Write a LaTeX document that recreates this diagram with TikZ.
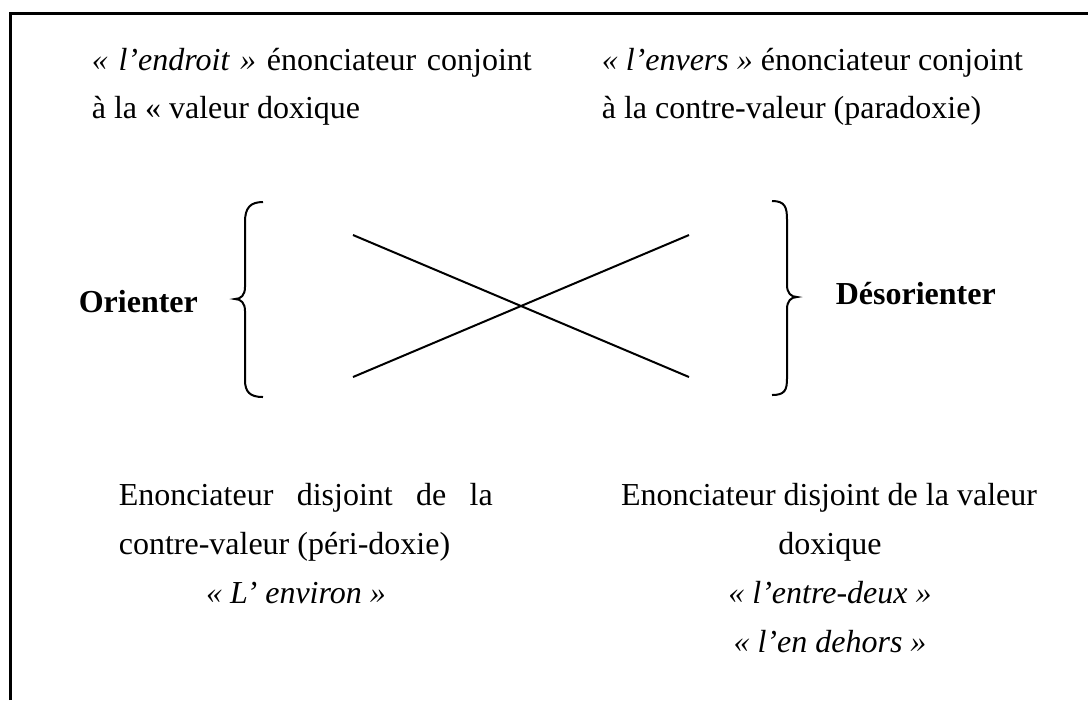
\documentclass[tikz,border=0pt]{standalone}
\usepackage{fontspec}
\setmainfont{Liberation Serif}
\begin{document}
\begin{tikzpicture}[x=0.25pt,y=-0.25pt,
  txt/.style={anchor=base west, inner sep=0, font=\fontsize{8}{10}\selectfont},
  ctxt/.style={anchor=base, inner sep=0, font=\fontsize{8}{10}\selectfont},
  lbl/.style={anchor=base west, inner sep=0, font=\fontsize{8}{10}\selectfont\bfseries},
  frameline/.style={line width=0.75pt},
  braceline/.style={line width=0.5pt},
  crossline/.style={line width=0.5pt}]
\useasboundingbox (0,0) rectangle (1088,700);
% frame
\coordinate (fbl) at (10,700);
\coordinate (ftl) at (10,13);
\coordinate (ftr) at (1088,13);
\draw[frameline] (fbl) -- (ftl) -- (ftr);
% top texts
\node[txt] (t1) at (91,70) {\makebox[110pt][s]{{\itshape «~l’endroit~»} énonciateur conjoint}};
\node[txt] (t2) at (91,118) {à la « valeur doxique};
\node[txt] (t3) at (601,70) {{\itshape «~l’envers~»} énonciateur conjoint};
\node[txt] (t4) at (601,118) {à la contre-valeur (paradoxie)};
% labels
\node[lbl] (orienter) at (78,312) {Orienter};
\node[lbl] (desorienter) at (835,304) {Désorienter};
% braces
\draw[braceline] (263,202) .. controls (250,202) and (245,208) .. (245,222)
  -- (245,287) .. controls (245,295) and (241,299) .. (235,299)
  .. controls (241,299) and (245,303) .. (245,311)
  -- (245,380) .. controls (245,392) and (250,397) .. (263,397);
\draw[braceline] (772,201) .. controls (785,201) and (787,207) .. (787,220)
  -- (787,285) .. controls (787,293) and (791,297) .. (797,297)
  .. controls (791,297) and (787,301) .. (787,309)
  -- (787,378) .. controls (787,390) and (785,395) .. (772,395);
% cross
\coordinate (a1) at (353,235);
\coordinate (a2) at (689,377);
\coordinate (b1) at (353,377);
\coordinate (b2) at (689,235);
\draw[crossline] (a1) -- (a2);
\draw[crossline] (b1) -- (b2);
% bottom left
\node[txt] (bl1) at (118,505) {\makebox[93.5pt][s]{Enonciateur disjoint de la}};
\node[txt] (bl2) at (118,554) {contre-valeur (péri-doxie)};
\node[ctxt] (bl3) at (296,603) {\itshape «~L’ environ~»};
% bottom right
\node[ctxt] (br1) at (829,505) {Enonciateur disjoint de la valeur};
\node[ctxt] (br2) at (830,554) {doxique};
\node[ctxt] (br3) at (830,603) {\itshape «~l’entre-deux~»};
\node[ctxt] (br4) at (830,652) {\itshape «~l’en dehors~»};
\end{tikzpicture}
\end{document}
